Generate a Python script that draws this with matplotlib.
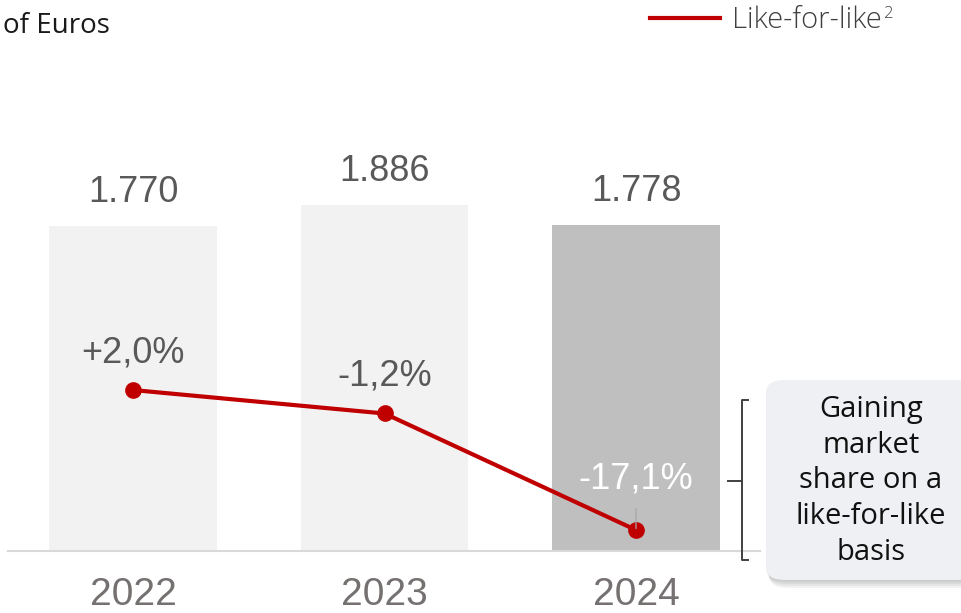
import matplotlib.pyplot as plt
from matplotlib.patches import FancyBboxPatch
from matplotlib.lines import Line2D

years = ['2022', '2023', '2024']
sales = [1770, 1886, 1778]
sales_labels = ['1.770', '1.886', '1.778']
lfl = [2.0, -1.2, -17.1]
lfl_labels = ['+2,0%', '-1,2%', '-17,1%']

W, H = 961, 613
fig = plt.figure(figsize=(W / 100, H / 100), dpi=100)

def px(x, y):
    # pixel position (from top-left) -> figure fraction
    return x / W, 1 - y / H

ax = fig.add_axes([8 / W, 62 / H, 752 / W, 451 / H])
x = list(range(len(years)))
bar_colors = ['#f2f2f2', '#f2f2f2', '#bfbfbf']
ax.bar(x, sales, width=0.665, color=bar_colors, zorder=1)
ax.set_xlim(-0.497, 2.493)
ax.set_ylim(0, 2456)
for s in ['top', 'left', 'right']:
    ax.spines[s].set_visible(False)
ax.spines['bottom'].set_color('#d9d9d9')
ax.spines['bottom'].set_linewidth(1.5)
ax.set_yticks([])
ax.set_xticks(x)
ax.set_xticklabels(years, fontsize=28, color='#767171',
                   family='Liberation Sans')
ax.tick_params(axis='x', length=0, pad=19)

for xi, v, lab in zip(x, sales, sales_labels):
    ax.annotate(lab, (xi, v), xytext=(0, 24), textcoords='offset points',
                ha='center', va='center', fontsize=26, color='#595959',
                family='Liberation Sans')

# like-for-like line on its own scale
ax2 = ax.twinx()
ax2.set_ylim(-19.96, 41.57)
ax2.axis('off')
ax2.plot(x, lfl, color='#c00000', lw=3, marker='o', markersize=11,
         zorder=3)

offsets = [27, 27, 37]
colors = ['#595959', '#595959', 'white']
for xi, v, lab, off, c in zip(x, lfl, lfl_labels, offsets, colors):
    if off > 30:
        ax2.annotate(lab, (xi, v), xytext=(0, off), textcoords='offset points',
                     ha='center', va='center', fontsize=26, color=c,
                     family='Liberation Sans',
                     arrowprops=dict(arrowstyle='-', color='#a6a6a6', lw=0.9,
                                     shrinkA=7, shrinkB=1))
    else:
        ax2.annotate(lab, (xi, v), xytext=(0, off), textcoords='offset points',
                     ha='center', va='center', fontsize=26, color=c,
                     family='Liberation Sans')

# unit caption and legend
fig.text(*px(3, 26), 'of Euros', fontsize=20, color='#1a1a1a',
         family='Open Sans', ha='left', va='center')
fig.add_artist(Line2D([650 / W, 720 / W], [1 - 18 / H, 1 - 18 / H],
                      color='#c00000', lw=3))
fig.text(*px(732, 20), 'Like-for-like', fontsize=21, color='#404040',
         family='Open Sans', fontweight='light', ha='left', va='center')
fig.text(*px(883, 14), '2', fontsize=12, color='#404040',
         family='Open Sans', fontweight='light', ha='left', va='center')

# bracket
bk = '#404040'
for xs, ys in [([748, 742, 742, 748], [400, 400, 560, 560]),
               ([742, 728], [481, 481])]:
    fig.add_artist(Line2D([a / W for a in xs], [1 - b / H for b in ys],
                          color=bk, lw=1.4))

# callout box with soft shadow
bx, by, bw, bh = 766, 380, 210, 200
for i in range(4):
    d = 2 + i * 2
    fig.add_artist(FancyBboxPatch(px(bx + d * 0.4, by + bh + d), bw / W, bh / H,
                                  boxstyle='round,pad=0,rounding_size=0.02',
                                  transform=fig.transFigure, fc='#000000',
                                  ec='none', alpha=0.05, zorder=4))
fig.add_artist(FancyBboxPatch(px(bx, by + bh), bw / W, bh / H,
                              boxstyle='round,pad=0,rounding_size=0.02',
                              transform=fig.transFigure, fc='#eff0f4',
                              ec='none', zorder=5))
fig.text(*px(871, 481), 'Gaining\nmarket\nshare on a\nlike-for-like\nbasis',
         fontsize=21, color='#111111', family='Open Sans', ha='center',
         va='center', linespacing=1.3, zorder=6)

fig.savefig('out.png', dpi=100)
